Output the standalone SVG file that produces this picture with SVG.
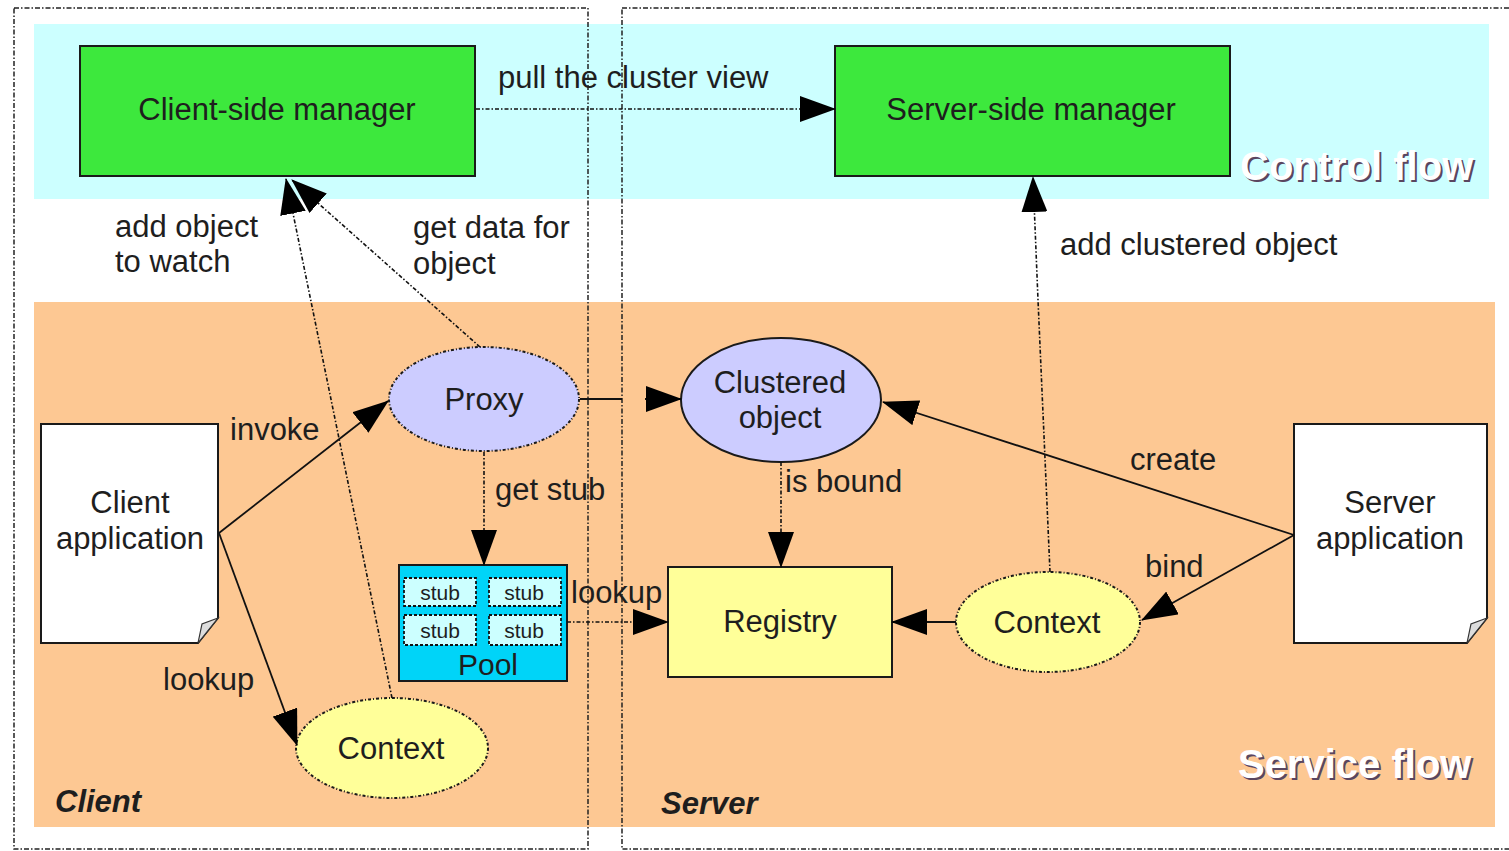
<svg xmlns="http://www.w3.org/2000/svg" width="1509" height="851" viewBox="0 0 1509 851">
<style>
text{font-family:"Liberation Sans",Arial,sans-serif;fill:#1e1e1e}
.t28{font-size:31px}
.mid{text-anchor:middle}
.zone{fill:none;stroke:#222;stroke-width:1.5;stroke-dasharray:5 2 1.5 2}
.box{stroke:#1a1a1a;stroke-width:2}
.ell{stroke:#1a1a1a;stroke-width:2;stroke-dasharray:3 2 1 2}
.sol{fill:none;stroke:#111;stroke-width:1.8}
.dot{fill:none;stroke:#111;stroke-width:1.6;stroke-dasharray:4 2 1.5 2}
.big{font-size:40px;font-weight:bold}
.sh{fill:#5a4660}
.wh{fill:#ffffff}
.bi{font-size:31px;font-weight:bold;font-style:italic}
.stub{fill:#ccffff;stroke:#111;stroke-width:1.8;stroke-dasharray:3 2}
</style>
<defs>
<marker id="ah" markerUnits="userSpaceOnUse" markerWidth="36" markerHeight="26" refX="35" refY="13" orient="auto">
<path d="M0,0 L36,13 L0,26 z" fill="#000"/>
</marker>
</defs>
<rect width="1509" height="851" fill="#fff"/>
<g id="bands">
<rect x="34" y="24" width="1455" height="175" fill="#ccffff"/>
<rect x="34" y="302" width="1461" height="525" fill="#fdc893"/>
</g>
<g id="zones">
<rect class="zone" x="14" y="8" width="574" height="841"/>
<rect class="zone" x="622" y="8" width="900" height="841"/>
</g>
<g id="labels-bg">
<text x="1242" y="182" class="big sh">Control flow</text>
<text x="1240" y="180" class="big wh">Control flow</text>
<text x="1240" y="780" class="big sh">Service flow</text>
<text x="1238" y="778" class="big wh">Service flow</text>
<text x="55" y="812" class="bi">Client</text>
<text x="661" y="814" class="bi">Server</text>
</g>
<g id="client-manager">
<rect class="box" x="80" y="46" width="395" height="130" fill="#3de83d"/>
<text x="277" y="120" class="t28 mid">Client-side manager</text>
</g>
<g id="server-manager">
<rect class="box" x="835" y="46" width="395" height="130" fill="#3de83d"/>
<text x="1031" y="120" class="t28 mid">Server-side manager</text>
</g>
<g id="client-app">
<path class="box" d="M41,424 H218 V618 L198,643 H41 Z" fill="#fff"/>
<path d="M198,643 L202,624 L218,618 Z" fill="#ddd" stroke="#333" stroke-width="1.2"/>
<text x="130" y="513" class="t28 mid">Client</text>
<text x="130" y="549" class="t28 mid">application</text>
</g>
<g id="server-app">
<path class="box" d="M1294,424 H1487 V618 L1467,643 H1294 Z" fill="#fff"/>
<path d="M1467,643 L1471,624 L1487,618 Z" fill="#ddd" stroke="#333" stroke-width="1.2"/>
<text x="1390" y="513" class="t28 mid">Server</text>
<text x="1390" y="549" class="t28 mid">application</text>
</g>
<g id="proxy">
<ellipse class="ell" cx="484" cy="399" rx="95" ry="52" fill="#ccccff"/>
<text x="484" y="410" class="t28 mid">Proxy</text>
</g>
<g id="clustered-object">
<ellipse cx="781" cy="400" rx="100" ry="62" fill="#ccccff" stroke="#1a1a1a" stroke-width="2"/>
<text x="780" y="393" class="t28 mid">Clustered</text>
<text x="780" y="428" class="t28 mid">object</text>
</g>
<g id="pool">
<rect class="box" x="399" y="565" width="168" height="116" fill="#00d4f8"/>
<rect class="stub" x="404" y="578" width="72" height="28"/>
<rect class="stub" x="489" y="578" width="72" height="28"/>
<rect class="stub" x="404" y="615" width="72" height="30"/>
<rect class="stub" x="489" y="615" width="72" height="30"/>
<text x="440" y="600" font-size="21" class="mid">stub</text>
<text x="524" y="600" font-size="21" class="mid">stub</text>
<text x="440" y="638" font-size="21" class="mid">stub</text>
<text x="524" y="638" font-size="21" class="mid">stub</text>
<text x="488" y="675" font-size="30" class="mid">Pool</text>
</g>
<g id="registry">
<rect class="box" x="668" y="567" width="224" height="110" fill="#ffff99"/>
<text x="780" y="632" class="t28 mid">Registry</text>
</g>
<g id="client-context">
<ellipse class="ell" cx="392" cy="748" rx="96" ry="50" fill="#ffff99"/>
<text x="391" y="759" class="t28 mid">Context</text>
</g>
<g id="server-context">
<ellipse class="ell" cx="1048" cy="622" rx="92" ry="50" fill="#ffff99"/>
<text x="1047" y="633" class="t28 mid">Context</text>
</g>
<g id="connectors">
<path class="dot" d="M476,109 H835" marker-end="url(#ah)"/>
<path class="dot" d="M392,698 L286,179" marker-end="url(#ah)"/>
<path class="dot" d="M480,347 L292,180" marker-end="url(#ah)"/>
<path class="dot" d="M1050,572 L1038,300 L1033,177" marker-end="url(#ah)"/>
<path class="sol" d="M219,533 L388,401" marker-end="url(#ah)"/>
<path class="sol" d="M219,533 L297,745" marker-end="url(#ah)"/>
<path class="sol" d="M580,399 H622 M645,399 H681" marker-end="url(#ah)"/>
<path class="dot" d="M484,452 V565" marker-end="url(#ah)"/>
<path class="dot" d="M567,622 H668" marker-end="url(#ah)"/>
<path class="dot" d="M781,462 V567" marker-end="url(#ah)"/>
<path class="sol" d="M956,622 H892" marker-end="url(#ah)"/>
<path class="sol" d="M1294,535 L883,402" marker-end="url(#ah)"/>
<path class="sol" d="M1294,535 L1142,620" marker-end="url(#ah)"/>
</g>
<g id="connector-labels">
<text x="498" y="88" class="t28">pull the cluster view</text>
<text x="115" y="237" class="t28">add object</text>
<text x="115" y="272" class="t28">to watch</text>
<text x="413" y="238" class="t28">get data for</text>
<text x="413" y="274" class="t28">object</text>
<text x="1060" y="255" class="t28">add clustered object</text>
<text x="230" y="440" class="t28">invoke</text>
<text x="163" y="690" class="t28">lookup</text>
<text x="495" y="500" class="t28">get stub</text>
<text x="571" y="603" class="t28">lookup</text>
<text x="785" y="492" class="t28">is bound</text>
<text x="1130" y="470" class="t28">create</text>
<text x="1145" y="577" class="t28">bind</text>
</g>
</svg>
